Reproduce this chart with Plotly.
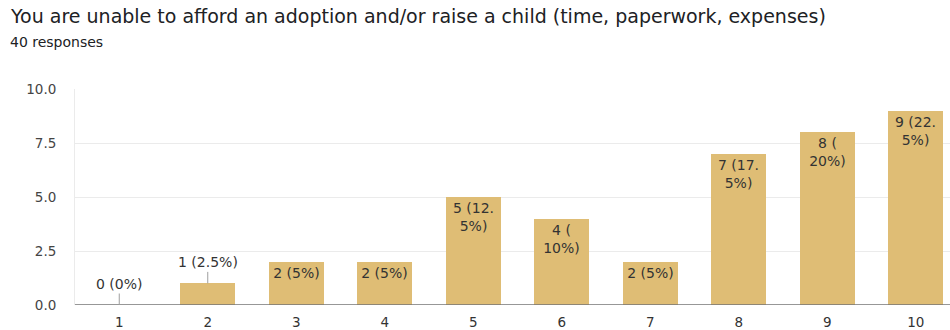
import plotly.graph_objects as go

# Survey answers on a 1-10 scale and how many of the 40 respondents picked each
ratings = ["1", "2", "3", "4", "5", "6", "7", "8", "9", "10"]
counts = [0, 1, 2, 2, 5, 4, 2, 7, 8, 9]
total_responses = 40

title_text = "You are unable to afford an adoption and/or raise a child (time, paperwork, expenses)"
subtitle_text = f"{total_responses} responses"

BAR_COLOR = "#dfbd75"
TEXT_COLOR = "#333333"
FONT = "DejaVu Sans, Verdana, sans-serif"


def make_label(count):
    pct = count / total_responses * 100
    return f"{count} ({pct:g}%)"


def wrap_label(label):
    # narrow bars force long labels onto two lines
    if "." in label:
        i = label.index(".") + 1
        return label[:i] + "<br>" + label[i:]
    if len(label) > 6:
        i = label.index("(") + 1
        return label[:i] + "<br>" + label[i:]
    return label


labels = [make_label(c) for c in counts]
inside_text = [wrap_label(l) if c >= 2 else "" for l, c in zip(labels, counts)]

L, R, T, B = 75, 0, 89, 25
W, H = 950, 330
cat_px = 88.5
x_hi = 0.5 + (W - L - R) / cat_px

fig = go.Figure(
    go.Bar(
        x=list(range(1, 11)),
        y=counts,
        marker=dict(color=BAR_COLOR, line=dict(width=0)),
        width=0.62,
        text=inside_text,
        textposition="inside",
        insidetextanchor="end",
        textangle=0,
        constraintext="none",
        textfont=dict(family=FONT, size=14, color=TEXT_COLOR),
        hoverinfo="skip",
    )
)

# small bars get their label above with a leader line
for i, (c, l) in enumerate(zip(counts, labels)):
    if c < 2:
        fig.add_annotation(
            x=i + 1, y=c, xref="x", yref="y",
            text=l, showarrow=True, arrowhead=0, arrowwidth=1,
            arrowcolor="#9e9e9e", ax=0, ay=-21,
            font=dict(family=FONT, size=14, color=TEXT_COLOR),
        )

fig.add_annotation(
    xref="paper", yref="paper",
    x=(8 - L) / (W - L - R), y=1 + (T - 16) / (H - T - B),
    xanchor="left", yanchor="middle", showarrow=False,
    text=title_text,
    font=dict(family=FONT, size=19, color="#202124"),
)
fig.add_annotation(
    xref="paper", yref="paper",
    x=(8 - L) / (W - L - R), y=1 + (T - 42) / (H - T - B),
    xanchor="left", yanchor="middle", showarrow=False,
    text=subtitle_text,
    font=dict(family=FONT, size=14, color="#202124"),
)

fig.update_layout(
    width=W, height=H,
    margin=dict(l=L, r=R, t=T, b=B, pad=0, autoexpand=False),
    paper_bgcolor="white", plot_bgcolor="white",
    showlegend=False,
    bargap=0,
    xaxis=dict(
        range=[0.5, x_hi],
        tickmode="array", tickvals=list(range(1, 11)), ticktext=ratings,
        showgrid=False, zeroline=False, showline=False,
        ticks="outside", ticklen=5, tickcolor="rgba(0,0,0,0)",
        tickfont=dict(family=FONT, size=13.5, color="#333333"),
        automargin=False,
        fixedrange=True,
    ),
    yaxis=dict(
        range=[0, 10],
        tickmode="array", tickvals=[0, 2.5, 5, 7.5, 10],
        ticktext=["0.0", "2.5", "5.0", "7.5", "10.0"],
        showgrid=True, gridcolor="#ebebeb", gridwidth=1,
        zeroline=False, showline=True, linecolor="#ebebeb", linewidth=1,
        ticks="outside", ticklen=15, tickcolor="rgba(0,0,0,0)",
        tickfont=dict(family=FONT, size=13.5, color="#444444"),
        automargin=False,
        fixedrange=True,
    ),
)

# baseline under the bars
fig.add_shape(type="line", xref="paper", yref="y", x0=0, x1=1, y0=0, y1=0,
              line=dict(color="#757575", width=1.5), layer="above")

fig.write_html("out.html")
